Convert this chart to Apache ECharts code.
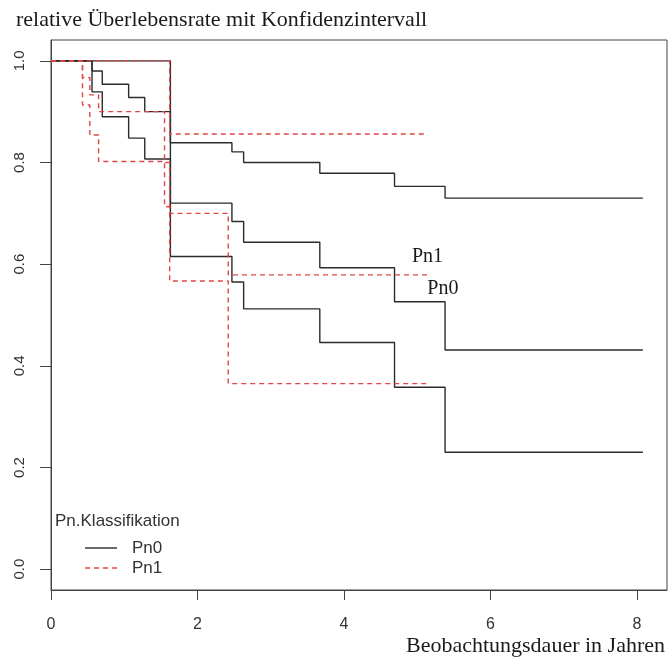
<!DOCTYPE html>
<html>
<head>
<meta charset="utf-8">
<script src="https://cdn.jsdelivr.net/npm/echarts@6/dist/echarts.min.js"></script>
<style>
  html, body { margin: 0; padding: 0; background: #ffffff; }
  #chart { width: 669px; height: 659px; }
</style>
</head>
<body>
<div id="chart"></div>
<script>
// Kaplan-Meier style step curves (relative survival) with confidence bands
const pn0Time  = [0, 0.56, 0.70, 1.06, 1.28, 1.63, 2.47, 2.63, 3.67, 4.69, 5.38, 8.08];
const pn0Est   = [1, 0.98, 0.954, 0.928, 0.90, 0.72, 0.684, 0.643, 0.593, 0.526, 0.431, 0.431];
const pn0Upper = [1, 1, 1, 1, 1, 0.839, 0.821, 0.80, 0.779, 0.753, 0.730, 0.730];
const pn0Lower = [1, 0.939, 0.89, 0.848, 0.807, 0.615, 0.565, 0.512, 0.446, 0.358, 0.23, 0.23];

const pn1Time  = [0, 0.43, 0.53, 0.65, 1.55, 1.62, 2.42, 5.14];
const pn1Est   = [1, 0.967, 0.933, 0.90, 0.80, 0.70, 0.579, 0.579];
const pn1Upper = [1, 1, 1, 1, 1, 0.856, 0.856, 0.856];
const pn1Lower = [1, 0.913, 0.854, 0.802, 0.713, 0.567, 0.365, 0.365];

const xTicks = [0, 2, 4, 6, 8];
const yTicks = [0, 0.2, 0.4, 0.6, 0.8, 1.0];

const groupLabels = [
  { text: 'Pn1', t: 5.14, s: 0.614 },
  { text: 'Pn0', t: 5.35, s: 0.551 }
];

const black = '#2b2b2b';
const red = '#e04646';
const axisColor = '#444444';

function pairs(times, values) {
  return times.map((t, i) => [t, values[i]]);
}

function stepSeries(name, times, values, color, dashed) {
  return {
    name: name,
    type: 'line',
    step: 'end',
    symbol: 'none',
    silent: true,
    animation: false,
    data: pairs(times, values),
    lineStyle: {
      color: color,
      width: 1.4,
      type: dashed ? [5, 4] : 'solid'
    }
  };
}

const chart = echarts.init(document.getElementById('chart'), null, { renderer: 'canvas' });

const option = {
  backgroundColor: '#ffffff',
  animation: false,
  title: {
    text: 'relative Überlebensrate mit Konfidenzintervall',
    left: 11,
    top: 4,
    textStyle: {
      fontFamily: 'Liberation Serif',
      fontWeight: 'normal',
      fontSize: 22,
      color: '#1a1a1a'
    }
  },
  grid: {
    left: 51, right: 2, top: 40, bottom: 69,
    containLabel: false,
    outerBoundsMode: 'none',
    show: true,
    borderColor: axisColor,
    borderWidth: 1
  },
  xAxis: {
    type: 'value',
    min: 0,
    max: 8.41,
    splitLine: { show: false },
    axisLine: { show: true, onZero: false, lineStyle: { color: axisColor } },
    axisTick: { show: true, length: 10, customValues: xTicks, lineStyle: { color: axisColor } },
    axisLabel: {
      customValues: xTicks,
      margin: 27,
      fontFamily: 'Liberation Sans',
      fontSize: 16,
      color: '#333333'
    }
  },
  yAxis: {
    type: 'value',
    min: -0.041,
    max: 1.041,
    splitLine: { show: false },
    axisLine: { show: true, onZero: false, lineStyle: { color: axisColor } },
    axisTick: { show: true, length: 11, customValues: yTicks, lineStyle: { color: axisColor } },
    axisLabel: {
      customValues: yTicks,
      rotate: 90,
      margin: 24,
      fontFamily: 'Liberation Sans',
      fontSize: 15,
      color: '#333333',
      formatter: v => v.toFixed(1)
    }
  },
  series: [
    stepSeries('Pn0 obere Grenze', pn0Time, pn0Upper, black, false),
    stepSeries('Pn0', pn0Time, pn0Est, black, false),
    stepSeries('Pn0 untere Grenze', pn0Time, pn0Lower, black, false),
    stepSeries('Pn1 obere Grenze', pn1Time, pn1Upper, red, true),
    stepSeries('Pn1', pn1Time, pn1Est, red, true),
    stepSeries('Pn1 untere Grenze', pn1Time, pn1Lower, red, true)
  ]
};

chart.setOption(option);

// Curve labels anchored in data coordinates, axis title and the legend block
const graphics = groupLabels.map(g => {
  const p = chart.convertToPixel({ gridIndex: 0 }, [g.t, g.s]);
  return {
    type: 'text',
    x: p[0], y: p[1],
    style: {
      text: g.text,
      fontFamily: 'Liberation Serif',
      fontSize: 20,
      fill: '#1a1a1a',
      align: 'center',
      verticalAlign: 'middle'
    }
  };
});

graphics.push(
  {
    type: 'text', x: 665, y: 646,
    style: { text: 'Beobachtungsdauer in Jahren', fontFamily: 'Liberation Serif', fontSize: 22,
             fill: '#1a1a1a', align: 'right', verticalAlign: 'middle' }
  },
  {
    type: 'text', x: 55, y: 521,
    style: { text: 'Pn.Klassifikation', fontFamily: 'Liberation Sans', fontSize: 17,
             fill: '#333333', align: 'left', verticalAlign: 'middle' }
  },
  {
    type: 'line', shape: { x1: 85, y1: 548, x2: 117, y2: 548 },
    style: { stroke: black, lineWidth: 1.4 }
  },
  {
    type: 'text', x: 132, y: 548,
    style: { text: 'Pn0', fontFamily: 'Liberation Sans', fontSize: 17,
             fill: '#333333', align: 'left', verticalAlign: 'middle' }
  },
  {
    type: 'line', shape: { x1: 85, y1: 568, x2: 117, y2: 568 },
    style: { stroke: red, lineWidth: 1.4, lineDash: [5, 4] }
  },
  {
    type: 'text', x: 132, y: 568,
    style: { text: 'Pn1', fontFamily: 'Liberation Sans', fontSize: 17,
             fill: '#333333', align: 'left', verticalAlign: 'middle' }
  }
);

chart.setOption({ graphic: graphics });
</script>
</body>
</html>
